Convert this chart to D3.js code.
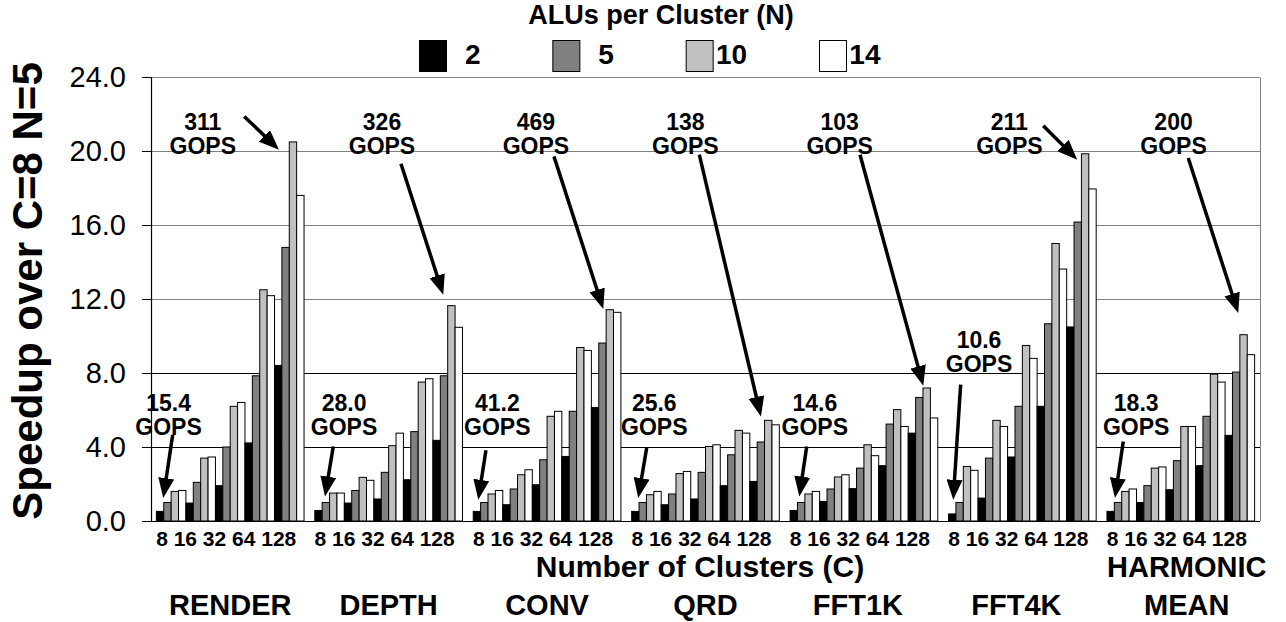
<!DOCTYPE html>
<html><head><meta charset="utf-8">
<script src="https://cdn.jsdelivr.net/npm/d3@7"></script>
<style>
html,body{margin:0;padding:0;background:#fff;}
svg{display:block;font-family:"Liberation Sans",Arial,Helvetica,sans-serif;}
</style></head>
<body>
<svg id="chart" width="1286" height="622"></svg>
<script>
// ---------- data ----------
const benchmarks = ["RENDER","DEPTH","CONV","QRD","FFT1K","FFT4K","HARMONIC MEAN"];
const clusters = [8,16,32,64,128];
const aluCounts = [2,5,10,14];
const yTicks = [0,4,8,12,16,20,24];
// speedup values, one array per ALU count, one row per benchmark (C = 8,16,32,64,128)
const speedupN2 = [
  [0.52,0.97,1.91,4.22,8.41],
  [0.57,0.97,1.19,2.23,4.36],
  [0.52,0.88,1.96,3.49,6.14],
  [0.52,0.88,1.19,1.91,2.14],
  [0.57,1.06,1.75,2.99,4.75],
  [0.38,1.24,3.46,6.20,10.49],
  [0.52,1.00,1.69,2.99,4.63]
];
const speedupN5 = [
  [1.00,2.09,4.00,7.85,14.79],
  [1.00,1.65,2.63,4.83,7.85],
  [1.00,1.73,3.31,5.93,9.62],
  [1.00,1.46,2.63,3.58,4.27],
  [1.00,1.73,2.86,5.24,6.68],
  [1.00,3.40,6.20,10.66,16.16],
  [1.00,1.91,3.26,5.66,8.05]
];
const speedupN10 = [
  [1.60,3.40,6.20,12.50,20.49],
  [1.51,2.36,4.07,7.51,11.64],
  [1.46,2.50,5.66,9.38,11.42],
  [1.42,2.56,4.03,4.90,5.44],
  [1.46,2.38,4.12,6.02,7.19],
  [2.95,5.44,9.49,15.00,19.85],
  [1.60,2.86,5.11,7.94,10.07]
];
const speedupN14 = [
  [1.65,3.46,6.41,12.18,17.60],
  [1.51,2.20,4.75,7.69,10.47],
  [1.65,2.77,5.93,9.22,11.28],
  [1.60,2.68,4.12,4.75,5.20],
  [1.60,2.50,3.53,5.11,5.57],
  [2.74,5.11,8.79,13.62,17.95],
  [1.73,2.92,5.11,7.51,8.99]
];
const seriesValues = [speedupN2, speedupN5, speedupN10, speedupN14];
// annotation labels: [top (C=128), bottom (C=8)] GOPS per benchmark
const gopsTop = ["311","326","469","138","103","211","200"];
const gopsLow = ["15.4","28.0","41.2","25.6","14.6","10.6","18.3"];

// ---------- layout ----------
const W = 1286, H = 622;
const plot = {left:151, right:1260, top:77, bottom:521};
const colors = ["#000000","#808080","#c0c0c0","#ffffff"];
const svg = d3.select("#chart");

const x0 = d3.scaleBand().domain(d3.range(benchmarks.length))
  .range([plot.left, plot.right]).paddingInner(0.068).paddingOuter(0.034);
const slotDomain = d3.range(clusters.length * aluCounts.length);
const x1 = d3.scaleBand().domain(slotDomain).range([0, x0.bandwidth()]).padding(0);
const y = d3.scaleLinear().domain([0,24]).range([plot.bottom, plot.top]);
const slotX = (g, s) => x0(g) + s * x1.step();

// gridlines
svg.append("g").selectAll("line").data(yTicks.filter(t => t > 0)).join("line")
  .attr("x1", plot.left).attr("x2", plot.right)
  .attr("y1", d => Math.round(y(d)) + 0.5).attr("y2", d => Math.round(y(d)) + 0.5)
  .attr("stroke", d => d <= 8 ? "#000" : "#808080").attr("stroke-width", 1);
// right border
svg.append("line").attr("x1", plot.right + 0.5).attr("x2", plot.right + 0.5)
  .attr("y1", Math.round(y(24)) + 0.5).attr("y2", plot.bottom).attr("stroke", "#808080");

// bars
const barData = [];
benchmarks.forEach((b, g) => {
  clusters.forEach((c, ci) => {
    aluCounts.forEach((n, ni) => {
      barData.push({g, slot: ci * aluCounts.length + ni, ni, v: seriesValues[ni][g][ci]});
    });
  });
});
svg.append("g").selectAll("rect").data(barData).join("rect")
  .attr("x", d => x0(d.g) + x1(d.slot))
  .attr("width", x1.bandwidth())
  .attr("y", d => y(d.v))
  .attr("height", d => y(0) - y(d.v))
  .attr("fill", d => colors[d.ni])
  .attr("stroke", "#000").attr("stroke-width", 1);

// y axis
const yAxis = svg.append("g").attr("transform", `translate(${plot.left},0)`)
  .call(d3.axisLeft(y).tickValues(yTicks).tickSize(9).tickPadding(16).tickFormat(d3.format(".1f")));
yAxis.select(".domain").attr("stroke", "#000").attr("stroke-width", 1.2);
yAxis.selectAll(".tick line").attr("stroke", "#000");
yAxis.selectAll(".tick text").attr("font-size", 29).attr("fill", "#000")
  .attr("font-family", '"Liberation Sans",Arial,sans-serif');
// bottom axis line
svg.append("line").attr("x1", plot.left).attr("x2", plot.right)
  .attr("y1", plot.bottom + 0.5).attr("y2", plot.bottom + 0.5).attr("stroke", "#000").attr("stroke-width", 1.2);

// y title
svg.append("text").attr("transform", `translate(42,291) rotate(-90)`)
  .attr("text-anchor", "middle").attr("font-weight", "bold").attr("font-size", 42)
  .text("Speedup over C=8 N=5");

// cluster labels under each group
svg.append("g").selectAll("text").data(benchmarks).join("text")
  .attr("x", (d, i) => x0(i) + x0.bandwidth()/2 - 4)
  .attr("y", 546).attr("text-anchor", "middle").attr("font-weight", "bold").attr("font-size", 21)
  .text(clusters.join(" "));

// x title
svg.append("text").attr("x", 700).attr("y", 577).attr("text-anchor", "middle")
  .attr("font-weight", "bold").attr("font-size", 30).text("Number of Clusters (C)");

// benchmark labels
benchmarks.forEach((b, i) => {
  const parts = b.split(" ");
  const cx = x0(i) + x0.bandwidth()/2 + (i === 6 ? 6 : (i >= 4 ? -6 : 0));
  const t = svg.append("text").attr("text-anchor", "middle").attr("font-weight", "bold").attr("font-size", 29);
  if (parts.length === 2) {
    t.append("tspan").attr("x", cx).attr("y", 577).text(parts[0]);
    t.append("tspan").attr("x", cx).attr("y", 615).text(parts[1]);
  } else {
    t.attr("x", cx).attr("y", 615).text(b);
  }
});

// legend
svg.append("text").attr("x", 661).attr("y", 24).attr("text-anchor", "middle")
  .attr("font-weight", "bold").attr("font-size", 27).text("ALUs per Cluster (N)");
const lx = d3.scaleLinear().domain([0, 3]).range([419.5, 819.5]);
const leg = svg.append("g").selectAll("g").data(aluCounts).join("g")
  .attr("transform", (d, i) => `translate(${lx(i)},40.5)`);
leg.append("rect").attr("width", 27).attr("height", 31)
  .attr("fill", (d, i) => colors[i]).attr("stroke", "#000").attr("stroke-width", 1);
leg.append("text").attr("x", 61).attr("y", 23).attr("text-anchor", "end")
  .attr("font-weight", "bold").attr("font-size", 28).text(d => d);

// annotations (positions in bar-slot units and value units)
const annTop = [
  {g:0, tx:6.28, from:[11.9,21.87], to:[16.6,20.07]},
  {g:1, tx:9.1,  from:[11.67,19.31], to:[17.4,12.23]},
  {g:2, tx:8.49, from:[10.93,19.71], to:[17.61,11.46]},
  {g:3, tx:7.27, from:[9.16,19.8],  to:[17.51,5.65]},
  {g:4, tx:6.72, from:[9.47,19.8],  to:[18.04,7.31]},
  {g:5, tx:8.24, from:[12.83,21.37], to:[17.43,19.53]},
  {g:6, tx:9.02, from:[11.01,19.62], to:[17.78,11.24]}
];
const annLow = [
  {g:0, tx:1.65, ty:5.96, from:[2.21,4.66], to:[0.93,1.24]},
  {g:1, tx:3.96, ty:5.96, from:[2.5,4.03],  to:[1.38,1.33]},
  {g:2, tx:3.26, ty:5.96, from:[1.72,3.82], to:[0.68,1.15]},
  {g:3, tx:3.06, ty:5.96, from:[2.03,3.95], to:[0.89,1.24]},
  {g:4, tx:3.35, ty:5.96, from:[2.25,4.03], to:[1.25,1.33]},
  {g:5, tx:4.13, ty:9.35, from:[1.64,7.37], to:[0.64,1.15]},
  {g:6, tx:3.96, ty:5.96, from:[2.21,4.3],  to:[1.08,1.24]}
];
const defs = svg.append("defs");
defs.append("marker").attr("id", "ah").attr("viewBox", "0 0 20 16")
  .attr("refX", 20).attr("refY", 8).attr("markerWidth", 20).attr("markerHeight", 16)
  .attr("markerUnits", "userSpaceOnUse").attr("orient", "auto")
  .append("path").attr("d", "M0,0 L20,8 L0,16 Z").attr("fill", "#000");

function drawAnn(a, label, ty) {
  const cx = slotX(a.g, a.tx);
  const by = y(ty);
  const t = svg.append("text").attr("text-anchor", "middle").attr("font-weight", "bold").attr("font-size", 23);
  t.append("tspan").attr("x", cx).attr("y", by).text(label);
  t.append("tspan").attr("x", cx).attr("y", by + 24).text("GOPS");
  const x1p = slotX(a.g, a.from[0]), y1p = y(a.from[1]);
  const x2p = slotX(a.g, a.to[0]), y2p = y(a.to[1]);
  const dx = x2p - x1p, dy = y2p - y1p, L = Math.hypot(dx, dy);
  svg.append("line").attr("x1", x1p).attr("y1", y1p)
    .attr("x2", x2p - dx / L * 10).attr("y2", y2p - dy / L * 10)
    .attr("stroke", "#000").attr("stroke-width", 3.5);
  svg.append("line").attr("x1", x2p - dx / L * 12).attr("y1", y2p - dy / L * 12)
    .attr("x2", x2p).attr("y2", y2p).attr("stroke", "none").attr("marker-end", "url(#ah)");
}
annTop.forEach((a, i) => drawAnn(a, gopsTop[i], 21.15));
annLow.forEach((a, i) => drawAnn(a, gopsLow[i], a.ty));
</script>
</body></html>
